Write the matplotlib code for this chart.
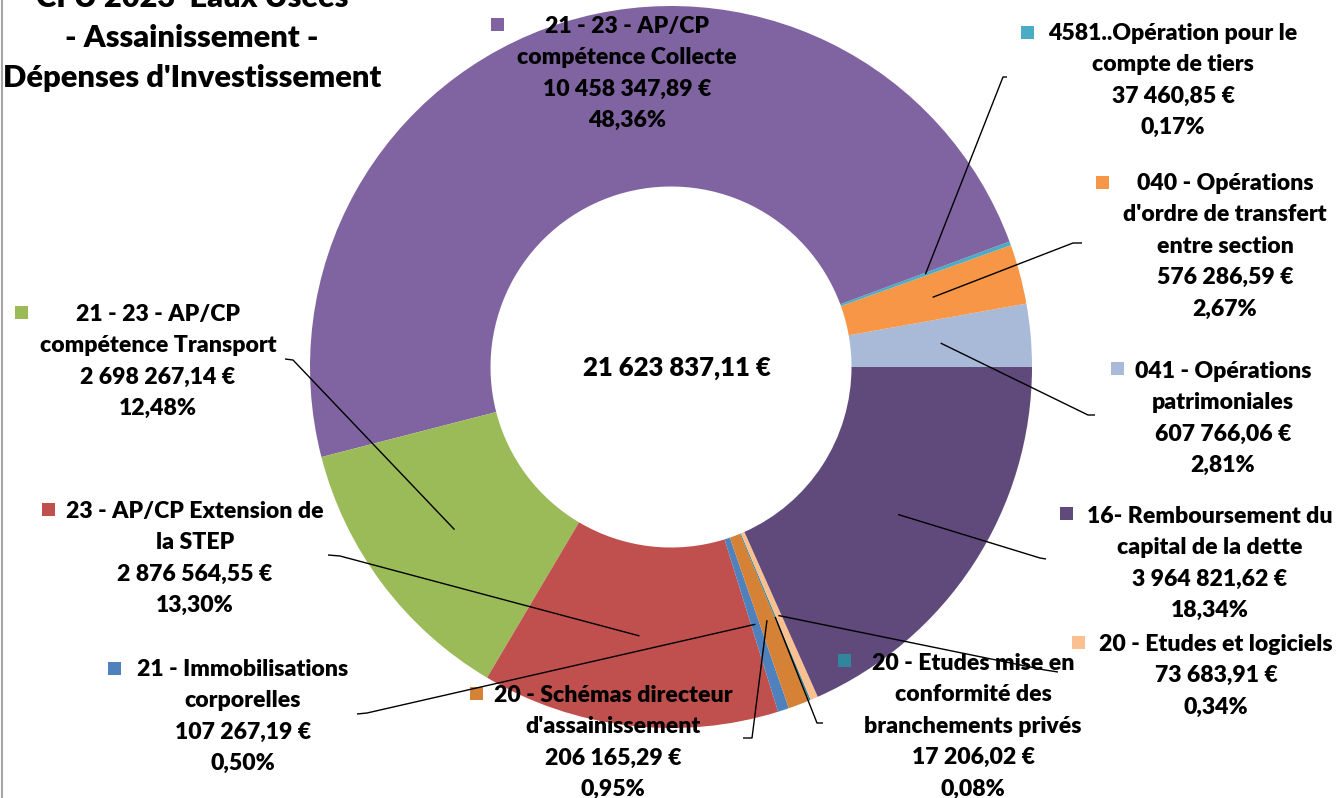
import matplotlib
matplotlib.use('Agg')
import matplotlib.pyplot as plt
import numpy as np

# ---------------- data (counter-clockwise from 3 o'clock) ----------------
categories = [
    "041 - Opérations\npatrimoniales",
    "040 - Opérations\nd'ordre de transfert\nentre section",
    "4581..Opération pour le\ncompte de tiers",
    "21 - 23 - AP/CP\ncompétence Collecte",
    "21 - 23 - AP/CP\ncompétence Transport",
    "23 - AP/CP Extension de\nla STEP",
    "21 - Immobilisations\ncorporelles",
    "20 - Schémas directeur\nd'assainissement",
    "20 - Etudes mise en\nconformité des\nbranchements privés",
    "20 - Etudes et logiciels",
    "16- Remboursement du\ncapital de la dette",
]
values = [607766.06, 576286.59, 37460.85, 10458347.89, 2698267.14,
          2876564.55, 107267.19, 206165.29, 17206.02, 73683.91, 3964821.62]
colors = ["#A9BAD9", "#F79646", "#4BACC6", "#8064A2", "#9BBB59",
          "#C0504D", "#4F81BD", "#D58136", "#31859C", "#FAC090", "#604A7B"]
title_lines = ["CFU 2023  Eaux Usées", "- Assainissement -", "Dépenses d'Investissement"]

# ---------------- layout (pixel coordinates, y downward) ----------------
W, H = 1338, 798
CX, CY = 671, 367
R_OUT, R_IN = 361, 180.5
FONT = "Lato"
WEIGHT = "heavy"
LAB_FS = 16.6
LINE_H = 31.4

# text centre x, first line centre y, marker x, marker y
label_pos = [
    (1223, 370, 1117, 368),
    (1225, 182, 1102, 182),
    (1173, 32, 1027, 32),
    (627, 25, 497, 24),
    (158, 313, 21, 312),
    (195, 510, 48, 509),
    (243, 668, 114, 668),
    (613, 694, 476, 693),
    (973, 662, 844, 660),
    (1216, 643, 1078, 642),
    (1210, 515, 1066, 513),
]
# leader line end points (after the anchor in the ring)
leaders = [
    [(1088, 415), (1095, 415)],
    [(1073, 243), (1082, 243)],
    [(1003, 77), (1007, 77)],
    None,
    [(293, 360), (285, 359)],
    [(340, 556), (328, 555)],
    [(367, 713), (357, 714)],
    [(752, 738), (743, 738)],
    [(817, 723), (823, 723)],
    [(1045, 670), (1058, 672)],
    [(1040, 558), (1046, 559)],
]


def Y(py):
    return H - py


def fr_money(v):
    return f"{v:,.2f}".replace(",", " ").replace(".", ",") + " €"


def fr_pct(p):
    return f"{p:.2f}".replace(".", ",") + "%"


fig = plt.figure(figsize=(W / 100, H / 100), dpi=100)
ax = fig.add_axes([0, 0, 1, 1])

wedges, _ = ax.pie(values, colors=colors, startangle=0, counterclock=True,
                   radius=R_OUT, center=(CX, Y(CY)),
                   wedgeprops=dict(width=R_OUT - R_IN, linewidth=0))
ax.set_xlim(0, W)
ax.set_ylim(0, H)
ax.set_aspect("auto")
ax.axis("off")

total = sum(values)
R_MID = (R_OUT + R_IN) / 2

for i, (cat, v) in enumerate(zip(categories, values)):
    w = wedges[i]
    tx, ty, mx, my = label_pos[i]
    lines = cat.split("\n") + [fr_money(v), fr_pct(100 * v / total)]
    for k, ln in enumerate(lines):
        ax.text(tx, Y(ty + k * LINE_H + 8), ln, ha="center", va="baseline",
                fontsize=LAB_FS, fontweight=WEIGHT, family=FONT, color="black")
    ax.add_patch(plt.Rectangle((mx - 6.5, Y(my) - 6.5), 13, 13,
                               facecolor=colors[i], edgecolor="none"))
    if leaders[i] is not None:
        th = np.deg2rad((w.theta1 + w.theta2) / 2)
        ax0 = CX + R_MID * np.cos(th)
        ay0 = Y(CY) + R_MID * np.sin(th)
        xs = [ax0] + [p[0] for p in leaders[i]]
        ys = [ay0] + [Y(p[1]) for p in leaders[i]]
        ax.plot(xs, ys, color="black", lw=1.0, solid_capstyle="butt")

# centre total
ax.text(CX + 6, Y(CY + 1), fr_money(total), ha="center", va="center",
        fontsize=18.5, fontweight=WEIGHT, family=FONT, color="black")

# title (partly cut at top as in the original)
for k, ln in enumerate(title_lines):
    ax.text(192, Y(7 + 40 * k), ln, ha="center", va="baseline",
            fontsize=22.2, fontweight=WEIGHT, family=FONT, color="black")

# chart area border on the left edge
ax.plot([2, 2], [0, H], color="#A6A6A6", lw=1.5)

fig.savefig("out.png", dpi=100, facecolor="white")
